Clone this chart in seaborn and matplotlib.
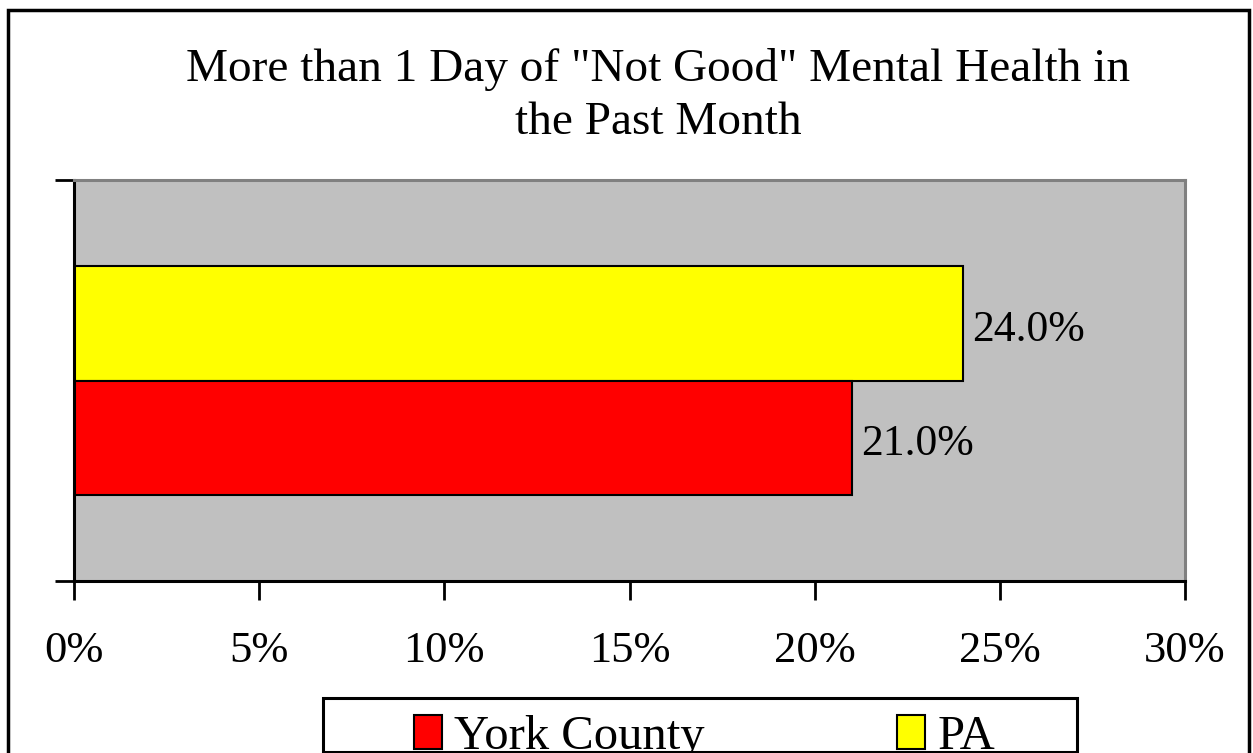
import matplotlib
matplotlib.use("Agg")
import matplotlib.pyplot as plt
import seaborn as sns
import pandas as pd
from matplotlib.patches import Rectangle
from matplotlib.ticker import FuncFormatter

# Share of adults reporting more than one "not good" mental health day
category = ["Mental Health"]
regions = ["York County", "PA"]
values_pct = [21.0, 24.0]
x_ticks = [0, 5, 10, 15, 20, 25, 30]
title_text = 'More than 1 Day of "Not Good" Mental Health in\nthe Past Month'

colors = {"York County": "#FF0000", "PA": "#FFFF00"}

df = pd.DataFrame({
    "category": category * len(regions),
    "region": regions,
    "value": values_pct,
})

sns.set_theme(style="white")
plt.rcParams["font.family"] = ["Liberation Serif", "DejaVu Serif"]
plt.rcParams["text.color"] = "black"
plt.rcParams["xtick.labelcolor"] = "black"
plt.rcParams["ytick.labelcolor"] = "black"

W, H = 1253, 753
fig = plt.figure(figsize=(W / 100, H / 100), dpi=100)
fig.patch.set_facecolor("white")

ax = fig.add_axes([74 / W, 1 - 581 / H, (1185 - 74) / W, (581 - 180) / H])
ax.set_facecolor("#C0C0C0")

# PA drawn first so it sits on top of the pair
draw_order = ["PA", "York County"]
sns.barplot(
    data=df, x="value", y="category", hue="region", hue_order=draw_order,
    palette=colors, orient="h", width=0.571, edgecolor="black", linewidth=1.5,
    legend=False, ax=ax, saturation=1,
)

for container in ax.containers:
    labels = ax.bar_label(container, labels=[f"{v:.1f}%" for v in container.datavalues],
                          padding=8, fontsize=31.5, color="black")
    for lab in labels:
        lab.xyann = (7, -4.5)

ax.set_xlim(x_ticks[0], x_ticks[-1])
ax.set_ylim(0.5, -0.5)
ax.set_xticks(x_ticks)
ax.xaxis.set_major_formatter(FuncFormatter(lambda v, p: f"{v:.0f}%"))
ax.set_yticks([-0.5, 0.5])
ax.set_yticklabels(["", ""])
ax.set_xlabel("")
ax.set_ylabel("")
ax.tick_params(axis="x", direction="out", length=14, width=2, color="black",
               labelsize=32, labelcolor="black", pad=22, bottom=True)
ax.tick_params(axis="y", direction="out", length=14, width=2, color="black", left=True)

for side in ["left", "bottom"]:
    ax.spines[side].set_color("black")
    ax.spines[side].set_linewidth(2.2)
for side in ["top", "right"]:
    ax.spines[side].set_color("#808080")
    ax.spines[side].set_linewidth(2.2)

fig.text(658 / W, 1 - 96 / H, title_text, ha="center", va="center",
         fontsize=34, linespacing=1.32, color="black")

# Outer chart frame
fig.add_artist(Rectangle((8 / W, -0.05), (1249 - 8) / W, 1.05 - 10 / H,
                         transform=fig.transFigure, fill=False,
                         edgecolor="black", linewidth=2.5))

# Legend box
fig.add_artist(Rectangle((323 / W, 1 - 752 / H), (1077 - 323) / W, (752 - 698) / H,
                         transform=fig.transFigure, facecolor="white",
                         edgecolor="black", linewidth=2.2, zorder=3))

handles = [Rectangle((0, 0), 1, 1, facecolor=colors[r], edgecolor="black", linewidth=1.5)
           for r in regions]
leg = fig.legend(handles, regions, loc="center left",
                 bbox_to_anchor=(414 / W, 1 - 737 / H), ncol=2, frameon=False,
                 fontsize=35, handlelength=0.58, handleheight=0.7,
                 handletextpad=0.25, columnspacing=3.95, borderpad=0,
                 borderaxespad=0, labelcolor="black")
leg.set_zorder(4)

fig.savefig("out.png", dpi=100, facecolor="white")
